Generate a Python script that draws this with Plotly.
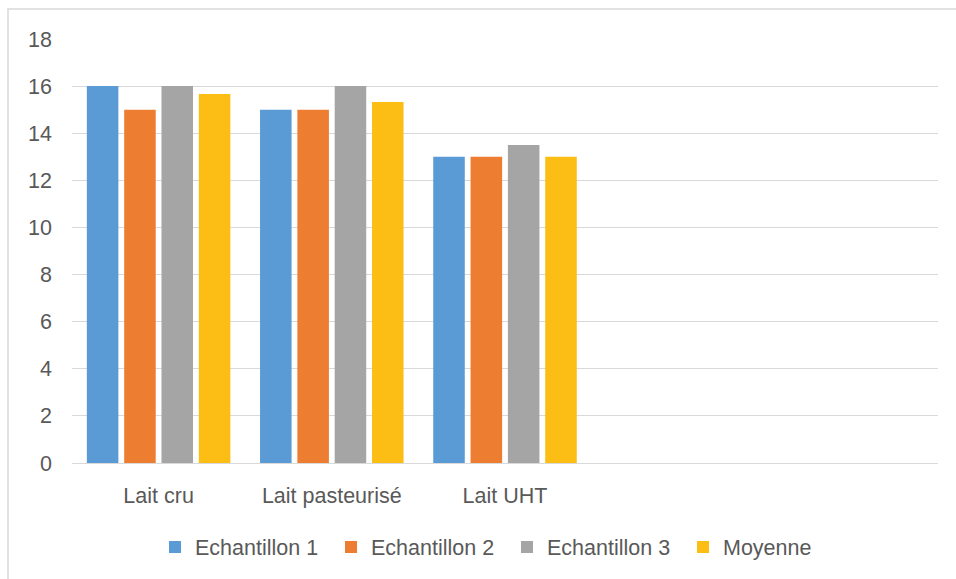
import plotly.graph_objects as go

# Data
categories = ["Lait cru", "Lait pasteurisé", "Lait UHT"]
series_names = ["Echantillon 1", "Echantillon 2", "Echantillon 3", "Moyenne"]
echantillon_1 = [16, 15, 13]
echantillon_2 = [15, 15, 13]
echantillon_3 = [16, 16, 13.5]
moyenne = [15.67, 15.33, 13]
y_ticks = [0, 2, 4, 6, 8, 10, 12, 14, 16, 18]

series_values = [echantillon_1, echantillon_2, echantillon_3, moyenne]
colors = ["#5B9BD5", "#ED7D31", "#A5A5A5", "#FCBE14"]

FONT = "Liberation Sans, Arial, sans-serif"
FS = 21.5
TEXT = "#595959"
GRID = "#D9D9D9"

x_pos = list(range(len(categories)))

fig = go.Figure()
for name, vals, col in zip(series_names, series_values, colors):
    fig.add_trace(go.Bar(
        x=x_pos, y=vals, name=name,
        marker=dict(color=col, line=dict(width=0)),
    ))

W, H = 956, 579
L, R, T, B = 72, 18, 39, 116
pw, ph = W - L - R, H - T - B

fig.update_layout(
    width=W, height=H,
    margin=dict(l=L, r=R, t=T, b=B),
    paper_bgcolor="white", plot_bgcolor="white",
    barmode="group", bargap=0.138, bargroupgap=0.155,
    font=dict(family=FONT, size=FS, color=TEXT),
    showlegend=True,
    legend=dict(
        orientation="h", x=(155 - L) / pw, xanchor="left",
        y=(463 - 547) / ph, yanchor="middle",
        entrywidth=131, entrywidthmode="pixels",
        font=dict(family=FONT, size=FS, color=TEXT),
    ),
    xaxis=dict(
        range=[-0.5, 4.5], tickvals=x_pos, ticktext=categories,
        showgrid=False, zeroline=False,
        showline=True, linecolor=GRID, linewidth=1,
        ticks="", ticklabelstandoff=13,
        tickfont=dict(family=FONT, size=FS, color=TEXT),
    ),
    yaxis=dict(
        range=[0, 18], tickvals=y_ticks,
        showgrid=True, gridcolor=GRID, gridwidth=1,
        zeroline=False, showline=False, ticks="",
        ticklabelstandoff=19,
        tickfont=dict(family=FONT, size=FS, color=TEXT),
    ),
    shapes=[dict(
        type="rect", xref="paper", yref="paper",
        x0=(8 - L) / pw, x1=(1000 - L) / pw,
        y0=(463 - 600) / ph, y1=(463 - 9) / ph,
        line=dict(color=GRID, width=1.5), fillcolor="rgba(0,0,0,0)",
        layer="below",
    )],
)

fig.write_html("out.html")
